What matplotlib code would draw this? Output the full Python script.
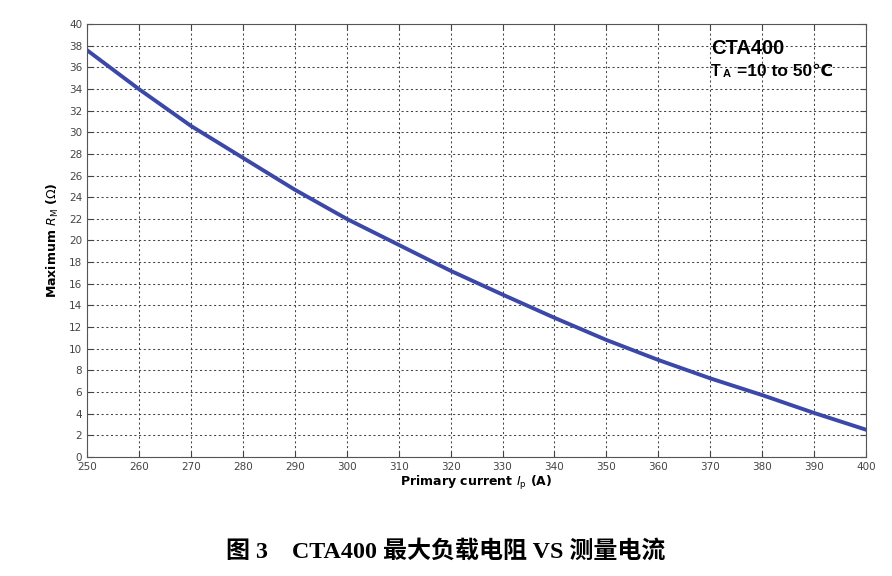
import matplotlib
matplotlib.use("Agg")
import matplotlib.pyplot as plt
import numpy as np

# values
current = [250, 255, 260, 270, 280, 290, 300, 310, 320, 330, 340, 350, 360, 370, 380, 390, 400]
max_rm = [37.6, 35.8, 34.0, 30.6, 27.65, 24.7, 22.0, 19.6, 17.2, 15.0, 12.85, 10.8, 8.95, 7.25, 5.7, 4.05, 2.5]

x_ticks = list(range(250, 401, 10))
y_ticks = list(range(0, 41, 2))

W, H = 892, 576
fig = plt.figure(figsize=(W / 100, H / 100), dpi=100)
ax = fig.add_axes([0.0975, 0.207, 0.8735, 0.751])

ax.plot(current, max_rm, color="#3c48a8", linewidth=2.8)

ax.set_xlim(250, 400)
ax.set_ylim(0, 40)
ax.set_xticks(x_ticks)
ax.set_yticks(y_ticks)
ax.tick_params(direction="in", top=True, right=True, labelsize=7.5,
               labelcolor="#444444", length=4, color="#444444")
ax.grid(True, linestyle=(0, (2, 2.5)), color="#444444", linewidth=0.75)
for s in ax.spines.values():
    s.set_color("#555555")

ax.set_xlabel(r"Primary current $I_\mathrm{p}$ (A)", fontsize=9, fontweight="bold", labelpad=2)
ax.set_ylabel(r"Maximum $R_\mathrm{M}$ ($\Omega$)", fontsize=9, fontweight="bold", labelpad=6)

sans = ["Liberation Sans", "DejaVu Sans"]
fig.text(711 / W, 1 - 48 / H, "CTA400", fontsize=14.5, fontweight="bold",
         family=sans, va="center")
# T with subscript A, then the range text (kept out of mathtext so ℃ falls back)
fig.text(711 / W, 1 - 71 / H, "T", fontsize=11.5, fontweight="bold", family=sans, va="center")
fig.text(723 / W, 1 - 74 / H, "A", fontsize=8, fontweight="bold", family=sans, va="center")
fig.text(737 / W, 1 - 71 / H, "=10 to 50℃", fontsize=12.5, fontweight="bold",
         family=sans, va="center")

fig.text(0.5, 1 - 551 / H, "图 3    CTA400 最大负载电阻 VS 测量电流", ha="center", va="center",
         fontsize=17.3, fontweight="bold",
         family=["Liberation Serif", "Noto Sans CJK SC"])

fig.savefig("out.png", dpi=100)
